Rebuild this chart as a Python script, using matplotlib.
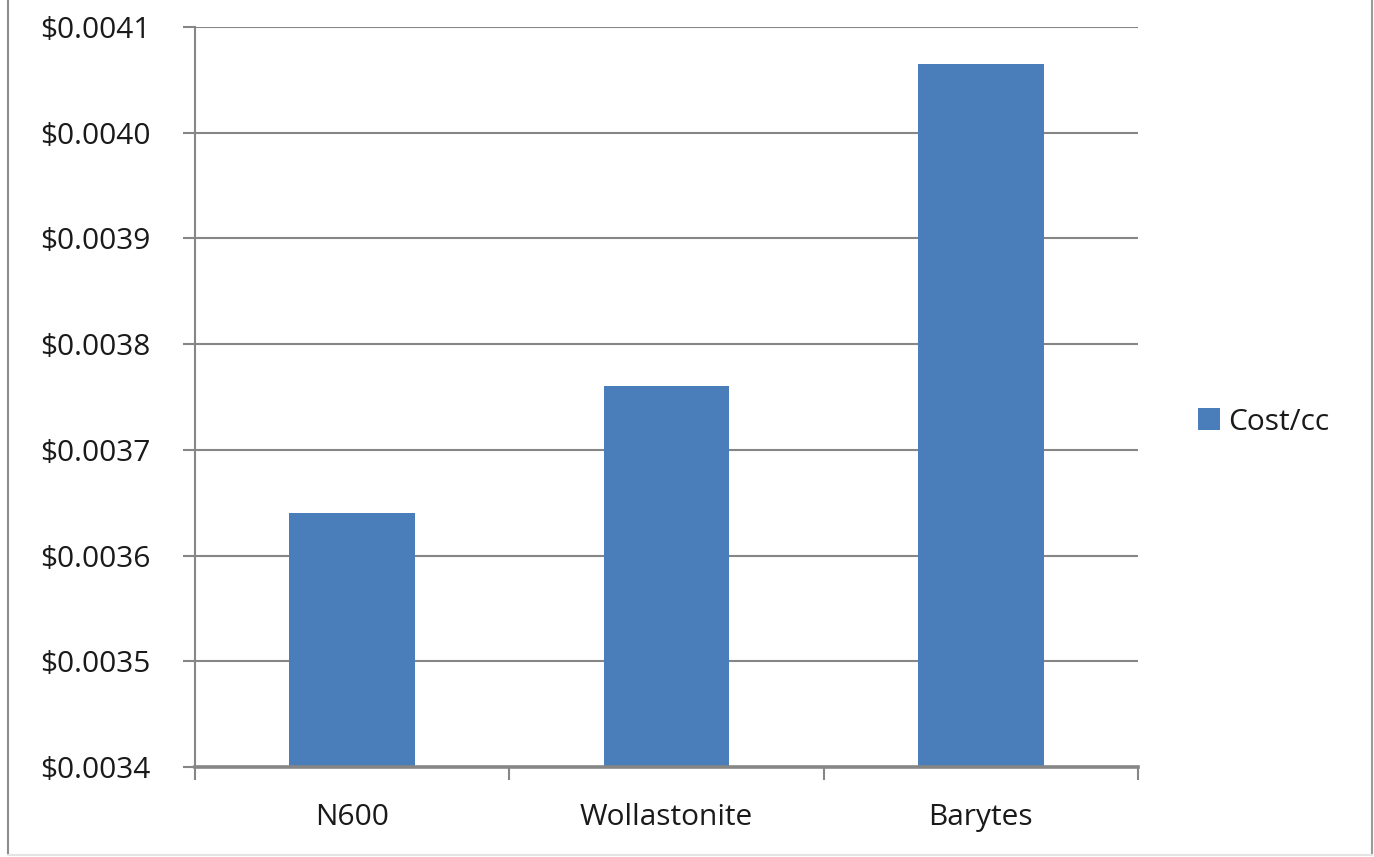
import matplotlib
matplotlib.use("Agg")
import matplotlib.pyplot as plt
from matplotlib.ticker import FixedLocator, FuncFormatter
from matplotlib.lines import Line2D
import numpy as np

# Filler cost per cubic centimetre
categories = ["N600", "Wollastonite", "Barytes"]
cost_per_cc = [0.00364, 0.00376, 0.004065]
series_name = "Cost/cc"
y_ticks = [0.0034, 0.0035, 0.0036, 0.0037, 0.0038, 0.0039, 0.0040, 0.0041]

W, H = 1374, 857
DPI = 100
plt.rcParams["font.family"] = ["Open Sans", "DejaVu Sans"]

fig = plt.figure(figsize=(W / DPI, H / DPI), dpi=DPI)
fig.patch.set_facecolor("white")

left, right, top, bottom = 195, 1138, 27, 767
ax = fig.add_axes([left / W, 1 - bottom / H, (right - left) / W, (bottom - top) / H])

grid_col = "#868686"
bar_col = "#4A7EBB"
text_col = "#1a1a1a"
fs = 21.5

x = np.arange(len(categories))
bars = ax.bar(x, cost_per_cc, width=0.4, color=bar_col, zorder=3, label=series_name)

ax.set_xlim(-0.5, len(categories) - 0.5)
ax.set_ylim(y_ticks[0], y_ticks[-1])

ax.yaxis.set_major_locator(FixedLocator(y_ticks))
ax.yaxis.set_major_formatter(FuncFormatter(lambda v, p: f"${v:.4f}"))
ax.grid(axis="y", color=grid_col, linewidth=1.5, zorder=0)
ax.set_axisbelow(True)

ax.set_xticks(x)
ax.set_xticklabels(categories)
ax.set_xticks(np.arange(-0.5, len(categories), 1.0), minor=True)

ax.tick_params(axis="y", which="major", length=9, width=1.5, color=grid_col,
               pad=23, labelsize=fs, labelcolor=text_col)
ax.tick_params(axis="x", which="major", length=0, pad=26, labelsize=fs,
               labelcolor=text_col)
ax.tick_params(axis="x", which="minor", length=9, width=1.5, color=grid_col)

for s in ("top", "right"):
    ax.spines[s].set_visible(False)
ax.spines["left"].set_color(grid_col)
ax.spines["left"].set_linewidth(1.5)
ax.spines["bottom"].set_color(grid_col)
ax.spines["bottom"].set_linewidth(2.6)
ax.spines["bottom"].set_zorder(4)

# legend to the right of the plot area
leg = fig.legend(handles=[bars], labels=[series_name], loc="center left",
                 bbox_to_anchor=(1183 / W, 1 - 422 / H), frameon=False,
                 fontsize=fs, handlelength=0.75, handleheight=0.75,
                 handletextpad=0.25, borderpad=0)
for t in leg.get_texts():
    t.set_color(text_col)

# outer chart border
fig.add_artist(Line2D([8 / W, 8 / W], [1 - 855 / H, 1.0], transform=fig.transFigure,
                      color="#8c8c8c", linewidth=1.5))
fig.add_artist(Line2D([1372 / W, 1372 / W], [1 - 855 / H, 1.0], transform=fig.transFigure,
                      color="#9a9a9a", linewidth=1.5))
fig.add_artist(Line2D([8 / W, 1372 / W], [1 - 855 / H, 1 - 855 / H], transform=fig.transFigure,
                      color="#e4e4e4", linewidth=1.5))

fig.savefig("out.png", dpi=DPI, facecolor="white")
